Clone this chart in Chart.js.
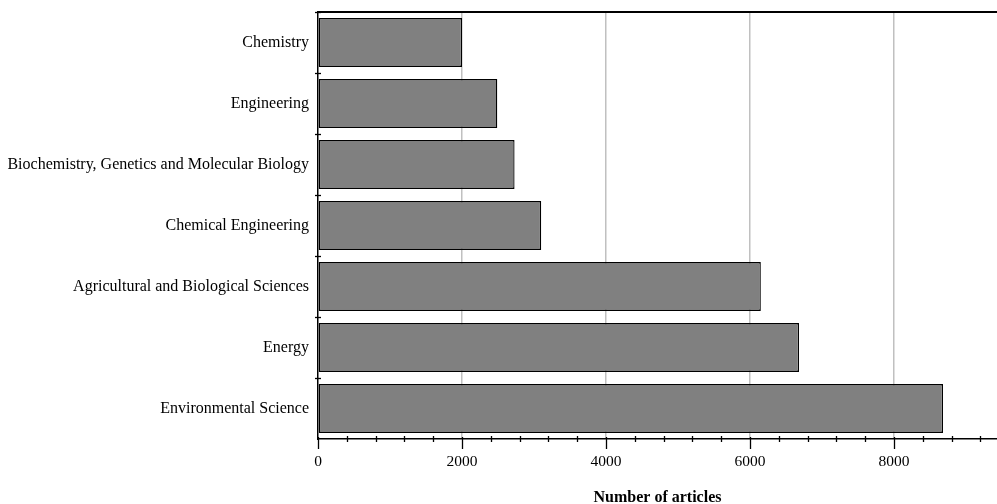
<!DOCTYPE html>
<html>
<head>
<meta charset="utf-8">
<script src="https://cdn.jsdelivr.net/npm/chart.js@4/dist/chart.umd.min.js"></script>
<style>
  body { margin: 0; background: #fff; }
  canvas { display: block; }
</style>
</head>
<body>
<canvas id="c" width="997" height="504"></canvas>
<script>
// subject areas, top to bottom as in the picture
const subjects = [
  "Chemistry",
  "Engineering",
  "Biochemistry, Genetics and Molecular Biology",
  "Chemical Engineering",
  "Agricultural and Biological Sciences",
  "Energy",
  "Environmental Science",
];
const articleCounts = [2000, 2490, 2730, 3100, 6150, 6680, 8680];

// x axis: labelled every 2000, small ticks every 400
const xMax = 9430;
const xMinorStep = 400;
const xMajorStep = 2000;

const FONT = "'Liberation Serif', 'Times New Roman', serif";

// ticks that cross the axis lines + the line along the top
const axisMarks = {
  id: "axisMarks",
  afterDraw(chart) {
    const { ctx, chartArea: a, scales } = chart;
    ctx.save();
    ctx.strokeStyle = "#000";
    ctx.lineWidth = 2;
    ctx.beginPath();
    ctx.moveTo(a.left, a.top);
    ctx.lineTo(chart.width, a.top);
    ctx.stroke();

    ctx.lineWidth = 1.3;
    scales.x.ticks.forEach((t) => {
      const px = Math.round(scales.x.getPixelForValue(t.value)) + 0.5;
      const major = t.value % xMajorStep === 0;
      ctx.beginPath();
      ctx.moveTo(px, a.bottom - (major ? 2 : 3));
      ctx.lineTo(px, a.bottom + (major ? 10 : 3));
      ctx.stroke();
    });

    const y = scales.y;
    const step = (y.bottom - y.top) / subjects.length;
    for (let i = 0; i < subjects.length; i++) {
      const py = Math.round(y.top + i * step) + 0.5;
      ctx.beginPath();
      ctx.moveTo(a.left - 3, py);
      ctx.lineTo(a.left + 3, py);
      ctx.stroke();
    }
    ctx.restore();
  },
};

new Chart(document.getElementById("c"), {
  type: "bar",
  data: {
    labels: subjects,
    datasets: [{
      data: articleCounts,
      backgroundColor: "#808080",
      borderColor: "#000",
      borderWidth: 1.3,
      borderSkipped: false,
      categoryPercentage: 0.8,
      barPercentage: 1,
    }],
  },
  options: {
    indexAxis: "y",
    responsive: false,
    animation: false,
    devicePixelRatio: 1,
    layout: { padding: { top: 12, right: 0, left: 0, bottom: 0 } },
    plugins: { legend: { display: false }, tooltip: { enabled: false } },
    scales: {
      x: {
        type: "linear",
        min: 0,
        max: xMax,
        afterFit: (s) => { s.height = 65; s.paddingRight = 0; },
        border: { display: true, color: "#000", width: 1.5 },
        grid: {
          drawTicks: false,
          color: (c) => (c.tick && c.tick.value > 0 && c.tick.value % xMajorStep === 0 ? "#c0c0c0" : "rgba(0,0,0,0)"),
          lineWidth: 1.5,
        },
        ticks: {
          stepSize: xMinorStep,
          includeBounds: false,
          autoSkip: false,
          maxRotation: 0,
          padding: 14,
          color: "#000",
          font: { family: FONT, size: 15.5 },
          callback: (v) => (v % xMajorStep === 0 ? String(v) : ""),
        },
        title: {
          display: true,
          text: "Number of articles",
          color: "#000",
          font: { family: FONT, size: 16, weight: "bold" },
          padding: { top: 0, bottom: -3 },
        },
      },
      y: {
        // labels sit mid-band, so the axis needs no extra room above/below
        afterFit: (s) => { s.width = 318; s.paddingTop = 0; s.paddingBottom = 0; },
        border: { display: true, color: "#000", width: 1.5 },
        grid: { drawOnChartArea: false, drawTicks: false },
        ticks: {
          padding: 9,
          color: "#000",
          font: { family: FONT, size: 16 },
        },
      },
    },
  },
  plugins: [axisMarks],
});
</script>
</body>
</html>
